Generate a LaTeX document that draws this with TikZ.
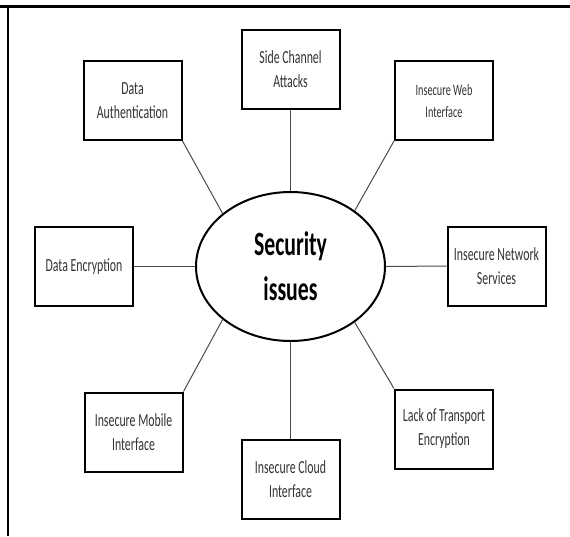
\documentclass[tikz,border=0pt]{standalone}
\usepackage{fontspec}
\usetikzlibrary{shapes.geometric}
\newfontfamily\calfont{Carlito}[FakeStretch=0.64]
\begin{document}
\begin{tikzpicture}[x=1pt,y=-1pt,
  issuebox/.style={draw=black, line width=2pt, rectangle, minimum width=98pt, minimum height=79pt,
    inner sep=2pt, align=center, text=black!80, font=\calfont\fontsize{18.5pt}{24pt}\selectfont},
  conn/.style={draw=black!70, line width=1pt},
  frameline/.style={draw=black}]
\useasboundingbox (0,0) rectangle (570,536);
\fill[white] (0,0) rectangle (570,536);
\draw[frameline, line width=3pt] (0,6) -- (570,6);
\draw[frameline, line width=2pt] (8,6) -- (8,536);

\node[ellipse, draw=black, line width=2pt, minimum width=189pt, minimum height=149pt, inner sep=0pt,
  align=center, font=\calfont\bfseries\fontsize{34pt}{45pt}\selectfont] (e) at (290.5,266.5) {Security\\issues};

\node[issuebox] (da) at (132.5,100.5) {Data\\Authentication};
\node[issuebox] (sc) at (290.5,69) {Side Channel\\Attacks};
\node[issuebox, font=\calfont\fontsize{16pt}{22pt}\selectfont] (web) at (444,100.5) {Insecure Web\\Interface};
\node[issuebox] (net) at (496.5,266) {Insecure Network\\Services};
\node[issuebox] (de) at (84,266.5) {Data Encryption};
\node[issuebox] (mob) at (133.5,432) {Insecure Mobile\\Interface};
\node[issuebox] (cloud) at (290.5,479) {Insecure Cloud\\Interface};
\node[issuebox] (tr) at (444,429) {Lack of Transport\\Encryption};

\draw[conn] (da.south east) -- (e.142);
\draw[conn] (sc.south) -- (e.north);
\draw[conn] (web.south west) -- (e.41);
\draw[conn] (e.east) -- (net.west);
\draw[conn] (de.east) -- (e.west);
\draw[conn] (mob.north east) -- (e.218);
\draw[conn] (e.south) -- (cloud.north);
\draw[conn] (e.319) -- (tr.north west);
\end{tikzpicture}
\end{document}
